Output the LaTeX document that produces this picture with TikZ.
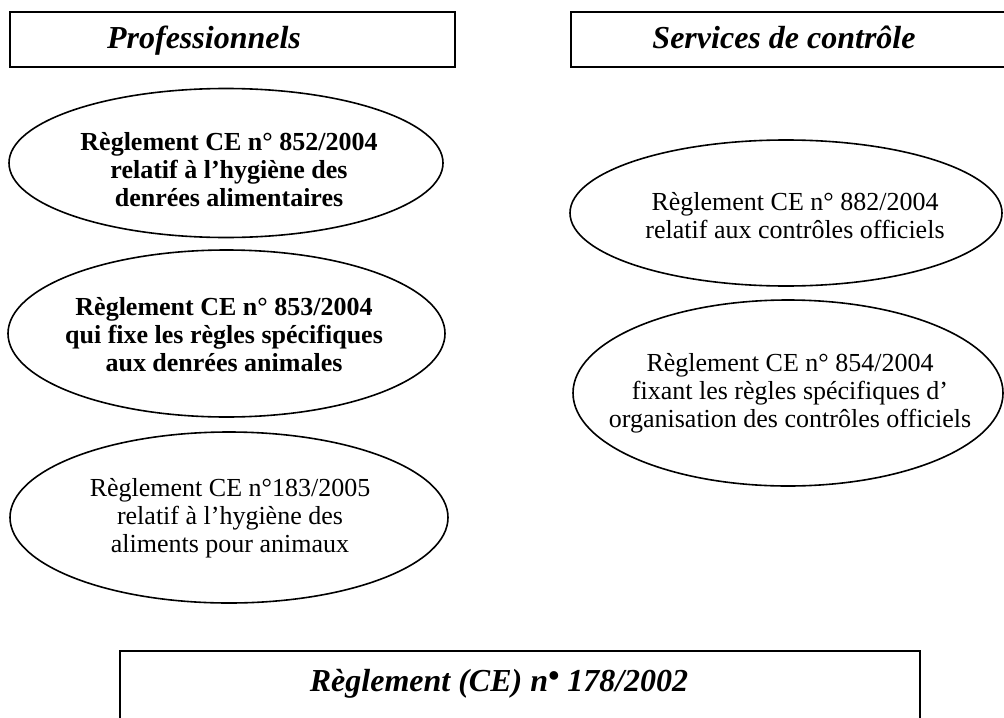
\documentclass[tikz,border=0pt]{standalone}
\usepackage{fontspec}
\setmainfont{Liberation Serif}
\usetikzlibrary{shapes.geometric}
\begin{document}
\begin{tikzpicture}[x=0.5pt,y=-0.5pt,
  hdrbox/.style={draw,line width=1.2pt,rectangle,inner sep=0pt},
  hdrtext/.style={font=\fontsize{16}{19}\selectfont\bfseries\itshape,inner sep=0pt,anchor=base},
  ell/.style={draw,line width=0.8pt,ellipse,inner sep=0pt},
  etext/.style={align=center,inner sep=0pt,font=\fontsize{13}{14}\selectfont},
  etextb/.style={etext,font=\fontsize{13}{14}\selectfont\bfseries}]
\useasboundingbox (0,0) rectangle (1004,717);
% header boxes
\node[hdrbox,minimum width=222.5pt,minimum height=27.5pt] (box1) at (232.5,39.5) {};
\node[hdrtext] (t1) at (204,49) {Professionnels};
\node[hdrbox,minimum width=219.5pt,minimum height=27.5pt] (box2) at (790.5,39.5) {};
\node[hdrtext] (t2) at (784,49) {Services de contrôle};
% left ellipses
\node[ell,minimum width=217pt,minimum height=74.5pt] (e1) at (226,163) {};
\node[etextb] (e1t) at (229,170)
  {Règlement CE n° 852/2004\\relatif à l’hygiène des\\denrées alimentaires};
\node[ell,minimum width=218.5pt,minimum height=83.5pt] (e2) at (226.5,333.5) {};
\node[etextb] (e2t) at (224,335)
  {Règlement CE n° 853/2004\\qui fixe les règles spécifiques\\aux denrées animales};
\node[ell,minimum width=219pt,minimum height=85.5pt] (e3) at (229,517.5) {};
\node[etext] (e3t) at (230,518)
  {Règlement CE n°183/2005\\relatif à l’hygiène des\\aliments pour animaux};
% right ellipses
\node[ell,minimum width=216pt,minimum height=73pt] (r1) at (786,213) {};
\node[etext] (r1t) at (795,216)
  {Règlement CE n° 882/2004\\relatif aux contrôles officiels};
\node[ell,minimum width=215pt,minimum height=93pt] (r2) at (788,393) {};
\node[etext] (r2t) at (790,393)
  {Règlement CE n° 854/2004\\fixant les règles spécifiques d’\\organisation des contrôles officiels};
% bottom box
\node[hdrbox,minimum width=400pt,minimum height=44.5pt] (box3) at (520,695.5) {};
\node[hdrtext] (t3) at (499,691) {Règlement (CE) n\raisebox{0.15em}{•} 178/2002};
\end{tikzpicture}
\end{document}
